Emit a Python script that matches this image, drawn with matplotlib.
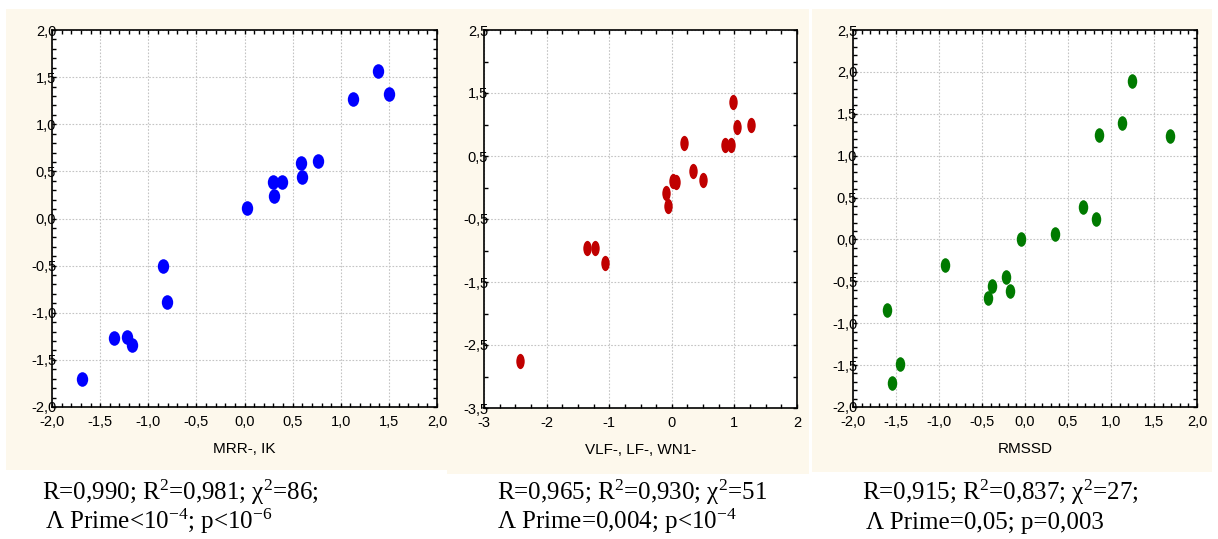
import numpy as np
import matplotlib
matplotlib.use("Agg")
import matplotlib.pyplot as plt
from matplotlib.path import Path
from matplotlib.transforms import Affine2D
from matplotlib.patches import Rectangle
from matplotlib.ticker import MultipleLocator, FuncFormatter

# ========================= DATA =========================
mrr_x = [1.39, 1.13, 1.50, 0.76, 0.59, 0.60, 0.30, 0.39, 0.31, 0.03,
         -0.85, -0.81, -1.36, -1.22, -1.17, -1.69]
mrr_y = [1.56, 1.27, 1.32, 0.61, 0.59, 0.44, 0.39, 0.39, 0.24, 0.11,
         -0.50, -0.89, -1.27, -1.26, -1.34, -1.70]

vlf_x = [0.98, 1.04, 1.27, 0.85, 0.94, 0.20, 0.34, 0.50, 0.02, 0.07,
         -0.09, -0.06, -1.35, -1.23, -1.07, -2.42]
vlf_y = [1.36, 0.96, 0.99, 0.68, 0.68, 0.70, 0.26, 0.12, 0.10, 0.08,
         -0.09, -0.30, -0.96, -0.96, -1.20, -2.75]

rmssd_x = [1.24, 1.13, 0.86, 1.69, 0.68, 0.83, 0.35, -0.05, -0.93, -0.22,
           -0.38, -0.43, -0.17, -1.60, -1.45, -1.55]
rmssd_y = [1.89, 1.39, 1.25, 1.23, 0.39, 0.25, 0.06, 0.01, -0.30, -0.45,
           -0.55, -0.70, -0.61, -0.84, -1.49, -1.71]

x_labels = ["MRR-, IK", "VLF-, LF-, WN1-", "RMSSD"]
stats_line1 = ["R=0,990; R$^2$=0,981; χ$^2$=86;",
               "R=0,965; R$^2$=0,930; χ$^2$=51",
               "R=0,915; R$^2$=0,837; χ$^2$=27;"]
stats_line2 = ["Λ Prime<10$^{-4}$; p<10$^{-6}$",
               "Λ Prime=0,004; p<10$^{-4}$",
               "Λ Prime=0,05; p=0,003"]
# ========================================================

plt.rcParams['font.family'] = ['Liberation Sans', 'DejaVu Sans']
plt.rcParams['mathtext.default'] = 'regular'

W, H = 1218, 539
fig = plt.figure(figsize=(W / 100, H / 100), dpi=100)
fig.patch.set_facecolor('white')

beige = '#FDF8EC'


def px_rect(x0, y0, x1, y1, z):
    # pixel box (top-left origin) -> figure patch
    r = Rectangle((x0 / W, 1 - y1 / H), (x1 - x0) / W, (y1 - y0) / H,
                  transform=fig.transFigure, facecolor=beige, edgecolor='none',
                  zorder=z)
    fig.patches.append(r)


px_rect(6, 9, 447, 470, -1)
px_rect(447, 9, 809, 474, 0.5)   # covers end of panel 1's last tick label
px_rect(812, 9, 1212, 472, -1)


def px_axes(x0, y0, x1, y1):
    return fig.add_axes([x0 / W, 1 - y1 / H, (x1 - x0) / W, (y1 - y0) / H])


def ellipse(sx):
    return Path.unit_circle().transformed(Affine2D().scale(sx, 1.0))


comma = FuncFormatter(lambda v, p: f"{v:.1f}".replace('.', ','))
intfmt = FuncFormatter(lambda v, p: f"{v:.0f}")

panels = [
    dict(box=(52, 30, 437, 407), x=mrr_x, y=mrr_y, color='#0000FF',
         xlim=(-2, 2), ylim=(-2, 2), xmaj=0.5, xmin=0.1, ymaj=0.5, ymin=0.1,
         xfmt=comma, yfmt=comma, sx=0.78, ms=10.5, z=0),
    dict(box=(484, 30, 797, 408), x=vlf_x, y=vlf_y, color='#C00000',
         xlim=(-3, 2), ylim=(-3.5, 2.5), xmaj=1, xmin=0.25, ymaj=1, ymin=0.5,
         xfmt=intfmt, yfmt=comma, sx=0.55, ms=11, z=1),
    dict(box=(853, 30, 1197, 407), x=rmssd_x, y=rmssd_y, color='#007A00',
         xlim=(-2, 2), ylim=(-2, 2.5), xmaj=0.5, xmin=0.1, ymaj=0.5, ymin=0.1,
         xfmt=comma, yfmt=comma, sx=0.65, ms=10.5, z=1),
]

for i, p in enumerate(panels):
    ax = px_axes(*p['box'])
    ax.set_zorder(p['z'])
    ax.plot(p['x'], p['y'], linestyle='none', marker=ellipse(p['sx']),
            markersize=p['ms'], color=p['color'], markeredgewidth=0)
    ax.set_xlim(*p['xlim'])
    ax.set_ylim(*p['ylim'])
    lo, hi = p['ylim']
    ax.set_yticks(np.arange(lo, hi + 1e-9, p['ymaj']))
    lo, hi = p['xlim']
    ax.set_xticks(np.arange(lo, hi + 1e-9, p['xmaj']))
    ax.xaxis.set_minor_locator(MultipleLocator(p['xmin']))
    ax.yaxis.set_minor_locator(MultipleLocator(p['ymin']))
    ax.xaxis.set_major_formatter(p['xfmt'])
    ax.yaxis.set_major_formatter(p['yfmt'])
    ax.grid(True, which='major', linestyle=(0, (1.5, 1.5)), color='#C4C4C4',
            linewidth=0.8)
    ax.tick_params(which='both', direction='in', top=True, right=True,
                   length=3, width=1, colors='black', labelsize=10.5)
    ax.tick_params(axis='y', which='major', pad=-3)
    ax.tick_params(axis='x', which='major', pad=5.5)
    for s in ax.spines.values():
        s.set_linewidth(1.2)
        s.set_color('black')
    ax.set_xlabel(x_labels[i], fontsize=11)
    ax.xaxis.set_label_coords(0.5, -0.092)

text_pos = [(42, 45), (497, 497), (862, 866)]
for i in range(3):
    x1, x2 = text_pos[i]
    fig.text(x1 / W, 1 - 500 / H, stats_line1[i], fontsize=18,
             family=['Liberation Serif', 'DejaVu Serif'], va='baseline')
    fig.text(x2 / W, 1 - 529 / H, stats_line2[i], fontsize=18,
             family=['Liberation Serif', 'DejaVu Serif'], va='baseline')

fig.savefig('out.png', dpi=100, facecolor='white')
